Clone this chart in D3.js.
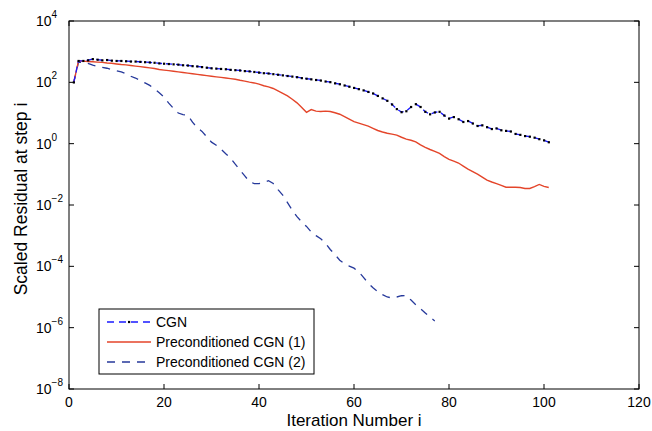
<!DOCTYPE html>
<html>
<head>
<meta charset="utf-8">
<script src="https://cdn.jsdelivr.net/npm/d3@7"></script>
<style>
  body { margin: 0; background: #fff; }
  text { font-family: "Liberation Sans", Arial, sans-serif; fill: #000; }
</style>
</head>
<body>
<svg id="graph" width="652" height="431"></svg>
<script>
// residual per iteration (iteration 1, 2, 3, ...)
const cgn = [
  100, 501, 501, 525, 575, 550, 525, 537, 513, 501,
  501, 490, 479, 479, 468, 457, 447, 437, 417, 407,
  398, 389, 380, 363, 355, 339, 331, 316, 302, 288,
  282, 275, 269, 257, 251, 245, 234, 229, 219, 209,
  200, 195, 186, 178, 170, 162, 155, 148, 138, 132,
  126, 120, 115, 107, 102, 93.3, 87.1, 79.4, 72.4, 66.1,
  60.3, 55.0, 49.0, 43.7, 36.3, 30.2, 25.1, 19.1, 13.5, 10.7,
  11.5, 15.8, 19.5, 15.8, 11.0, 9.12, 10.5, 11.0, 8.32, 6.61,
  7.41, 6.31, 5.13, 5.50, 4.57, 3.80, 3.98, 3.47, 3.02, 3.16,
  2.75, 2.63, 2.51, 2.09, 1.95, 1.78, 1.70, 1.58, 1.41, 1.29,
  1.12,
];
const pcgn1 = [
  100, 501, 490, 479, 468, 457, 447, 427, 417, 398,
  380, 372, 355, 339, 324, 309, 295, 282, 263, 251,
  240, 229, 219, 209, 200, 191, 182, 174, 166, 158,
  151, 145, 138, 132, 126, 117, 110, 102, 95.5, 87.1,
  77.6, 70.8, 63.1, 52.5, 43.7, 36.3, 28.2, 21.4, 15.1, 10.5,
  12.9, 11.5, 11.2, 11.5, 11.2, 10.2, 9.12, 7.59, 6.31, 5.25,
  4.68, 4.17, 3.72, 3.16, 2.69, 2.40, 2.19, 2.04, 1.91, 1.62,
  1.41, 1.29, 1.15, 0.912, 0.759, 0.646, 0.562, 0.479, 0.380, 0.309,
  0.269, 0.234, 0.186, 0.148, 0.123, 0.102, 0.0813, 0.0646, 0.0562, 0.0501,
  0.0437, 0.0380, 0.0380, 0.0380, 0.0372, 0.0347, 0.0347, 0.0398, 0.0468, 0.0407,
  0.0372,
];
const pcgn2 = [
  100, 447, 457, 417, 363, 331, 309, 288, 263, 240,
  219, 191, 158, 138, 115, 95.5, 79.4, 61.7, 45.7, 33.1,
  20.9, 14.1, 10.0, 8.91, 8.51, 5.01, 3.31, 2.51, 1.66, 1.12,
  0.891, 0.661, 0.468, 0.339, 0.214, 0.138, 0.0891, 0.0575, 0.0501, 0.0501,
  0.0537, 0.0617, 0.0501, 0.0316, 0.0209, 0.0120, 0.00676, 0.00417, 0.00282, 0.00200,
  0.00132, 0.00100, 7.94e-4, 5.62e-4, 3.55e-4, 2.40e-4, 1.58e-4, 1.20e-4, 1.02e-4, 8.71e-5,
  6.61e-5, 4.37e-5, 2.82e-5, 2.00e-5, 1.51e-5, 1.20e-5, 1.00e-5, 9.33e-6, 1.00e-5, 1.10e-5,
  1.12e-5, 7.94e-6, 5.62e-6, 4.17e-6, 3.02e-6, 2.19e-6, 1.66e-6,
];
const seriesNames = [ "CGN", "Preconditioned CGN (1)", "Preconditioned CGN (2)" ];
const xTicks = [ 0, 20, 40, 60, 80, 100, 120 ];
const yExponents = [ 4, 2, 0, -2, -4, -6, -8 ];

const graph = d3.select( "#graph" );
const LEFT = 69;
const RIGHT = 639;
const TOP = 21;
const BOTTOM = 389;
const TICK = 5;

const x = d3.scaleLinear().domain( [ 0, 120 ] ).range( [ LEFT, RIGHT ] );
const y = d3.scaleLog().domain( [ 1e-8, 1e4 ] ).range( [ BOTTOM, TOP ] );

const toPoints = vals => vals.map( ( v, i ) => ( { x: i + 1, y: v } ) );
const line = d3.line()
  .x( d => x( d.x ) )
  .y( d => y( d.y ) );

// ticks point inward on all four sides, MATLAB style
const axes = graph.append( "g" );

xTicks.forEach( t => {
  axes.append( "line" )
    .attr( "x1", x( t ) ).attr( "x2", x( t ) )
    .attr( "y1", BOTTOM ).attr( "y2", BOTTOM - TICK )
    .attr( "stroke", "#000" );
  axes.append( "line" )
    .attr( "x1", x( t ) ).attr( "x2", x( t ) )
    .attr( "y1", TOP ).attr( "y2", TOP + TICK )
    .attr( "stroke", "#000" );
  axes.append( "text" )
    .attr( "x", x( t ) ).attr( "y", BOTTOM + 18 )
    .attr( "text-anchor", "middle" )
    .attr( "font-size", 14 )
    .text( t );
} );

yExponents.forEach( e => {
  const yy = y( Math.pow( 10, e ) );
  axes.append( "line" )
    .attr( "x1", LEFT ).attr( "x2", LEFT + TICK )
    .attr( "y1", yy ).attr( "y2", yy )
    .attr( "stroke", "#000" );
  axes.append( "line" )
    .attr( "x1", RIGHT ).attr( "x2", RIGHT - TICK )
    .attr( "y1", yy ).attr( "y2", yy )
    .attr( "stroke", "#000" );
  const label = axes.append( "text" )
    .attr( "x", 36 ).attr( "y", yy + 5 )
    .attr( "font-size", 14 );
  label.append( "tspan" ).text( "10" );
  label.append( "tspan" )
    .attr( "dy", -8 )
    .attr( "font-size", 10 )
    .text( e < 0 ? "\u2212" + Math.abs( e ) : e );
} );

// series
const plot = graph.append( "g" );
plot.append( "path" )
  .attr( "d", line( toPoints( pcgn2 ) ) )
  .attr( "fill", "none" )
  .attr( "stroke", "#26399b" )
  .attr( "stroke-width", 1.3 )
  .attr( "stroke-dasharray", "8,7" );
plot.append( "path" )
  .attr( "d", line( toPoints( pcgn1 ) ) )
  .attr( "fill", "none" )
  .attr( "stroke", "#e4452a" )
  .attr( "stroke-width", 1.4 );
plot.append( "path" )
  .attr( "d", line( toPoints( cgn ) ) )
  .attr( "fill", "none" )
  .attr( "stroke", "#1a1aff" )
  .attr( "stroke-width", 1.3 )
  .attr( "stroke-dasharray", "6,4" );
plot.selectAll( "rect.dot" )
  .data( toPoints( cgn ) )
  .enter().append( "rect" )
  .attr( "class", "dot" )
  .attr( "x", d => x( d.x ) - 1 )
  .attr( "y", d => y( d.y ) - 1 )
  .attr( "width", 2.2 ).attr( "height", 2.2 )
  .attr( "fill", "#000" );

// box on top of the lines
graph.append( "rect" )
  .attr( "x", LEFT ).attr( "y", TOP )
  .attr( "width", RIGHT - LEFT ).attr( "height", BOTTOM - TOP )
  .attr( "fill", "none" )
  .attr( "stroke", "#000" );

// axis titles
graph.append( "text" )
  .attr( "x", ( LEFT + RIGHT ) / 2 ).attr( "y", 426 )
  .attr( "text-anchor", "middle" )
  .attr( "font-size", 17 )
  .text( "Iteration Number i" );
graph.append( "text" )
  .attr( "transform", `translate(27,${( TOP + BOTTOM ) / 2 - 6}) rotate(-90)` )
  .attr( "text-anchor", "middle" )
  .attr( "font-size", 17.5 )
  .text( "Scaled Residual at step i" );

// legend
const legend = graph.append( "g" );
legend.append( "rect" )
  .attr( "x", 99 ).attr( "y", 309 )
  .attr( "width", 215 ).attr( "height", 65 )
  .attr( "fill", "#fff" )
  .attr( "stroke", "#000" );
const legendStyles = [
  { color: "#1a1aff", dash: "7,5", width: 1.3 },
  { color: "#e4452a", dash: null, width: 1.4 },
  { color: "#26399b", dash: "8,7", width: 1.3 },
];
seriesNames.forEach( ( name, i ) => {
  const ly = 322 + i * 20;
  legend.append( "line" )
    .attr( "x1", 107 ).attr( "x2", 151 )
    .attr( "y1", ly ).attr( "y2", ly )
    .attr( "stroke", legendStyles[i].color )
    .attr( "stroke-width", legendStyles[i].width )
    .attr( "stroke-dasharray", legendStyles[i].dash );
  if ( i === 0 ) {
    legend.append( "rect" )
      .attr( "x", 128 ).attr( "y", ly - 1.1 )
      .attr( "width", 2.2 ).attr( "height", 2.2 )
      .attr( "fill", "#000" );
  }
  legend.append( "text" )
    .attr( "x", 156 ).attr( "y", ly + 5 )
    .attr( "font-size", 14 )
    .text( name );
} );
</script>
</body>
</html>
